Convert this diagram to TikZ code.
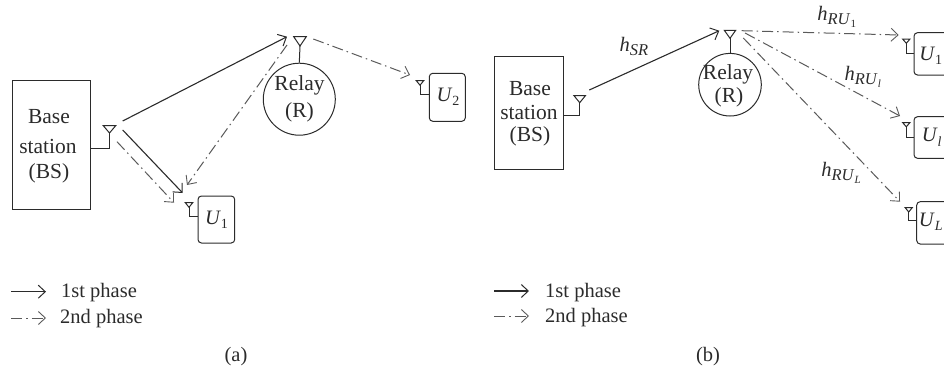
\documentclass[tikz,border=0pt]{standalone}
\usepackage{fontspec}
\setmainfont{Liberation Serif}
\usetikzlibrary{arrows.meta}
\definecolor{inkc}{HTML}{2B2B2B}
\definecolor{dashc}{HTML}{5A5A5A}
\newcommand{\antenna}[5]{% name, x, top y, half width, apex y
  \coordinate (#1) at (#2,#5);
  \draw[wire] (#2-#4,#3) -- (#2+#4,#3) -- (#1) -- cycle;
}
\newcommand{\itx}[1]{\textit{#1}}
\newcommand{\sbx}[1]{\raisebox{-0.22em}{\fontsize{14}{14}\selectfont #1}}
\newcommand{\sbh}[1]{\raisebox{-0.2em}{\fontsize{16.5}{16.5}\selectfont #1}}
\newcommand{\ssbx}[1]{\raisebox{-0.2em}{\fontsize{11}{11}\selectfont #1}}
\tikzset{
  wire/.style={draw=inkc,line width=1pt,line join=miter},
  phaseone/.style={draw=inkc,line width=1.1pt,-{Straight Barb[length=7pt,width=13pt,line width=1pt]}},
  phasetwo/.style={draw=dashc,line width=1pt,dash pattern=on 11pt off 4pt on 1.5pt off 4pt,-{Straight Barb[length=7pt,width=13pt,line width=0.9pt]}},
  txt/.style={text=inkc,inner sep=0pt,font=\fontsize{20.5}{24}\selectfont,align=center},
  boxtxt/.style={txt,font=\fontsize{21.5}{25}\selectfont},
  bsbox/.style={wire,rectangle,inner sep=0pt},
  ubox/.style={wire,rounded corners=3.5pt},
}
\begin{document}
\begin{tikzpicture}[x=1pt,y=-1pt]
\useasboundingbox (0,0) rectangle (944,375);
\clip (0,0) rectangle (944,375);
% ---------- panel (a)
\node[bsbox,minimum width=78.5pt,minimum height=128.5pt] (bsa) at (51.3,144.8) {};
\node[boxtxt] (bsat1) at (49,117) {Base};
\node[boxtxt] (bsat2) at (48,146) {station};
\node[boxtxt] (bsat3) at (49,173) {(BS)};
\antenna{anta}{109.5}{125.7}{6.2}{133}
\draw[wire] (anta) -- (109.5,148) -- (bsa.east |- 0,148);
\node[wire,circle,minimum size=72pt,inner sep=0pt] (rla) at (299.3,99.2) {};
\node[boxtxt] (rlat1) at (299.5,85.5) {Relay};
\node[boxtxt] (rlat2) at (299.5,112) {(R)};
\antenna{antra}{300}{36.7}{6.3}{46}
\draw[wire] (antra) -- (rla.north);
\draw[ubox] (198,196) rectangle (234.7,243);
\coordinate (u1a) at (198,216.7);
\node[txt] (u1at) at (216.5,220) {\itx{U}\sbx{1}};
\antenna{antu1a}{189}{202.7}{3.7}{207.3}
\draw[wire] (antu1a) -- (189,216.7) -- (u1a);
\draw[ubox] (429.3,73.3) rectangle (465.3,121.3);
\coordinate (u2a) at (429.3,94);
\node[txt] (u2at) at (448,97) {\itx{U}\sbx{2}};
\antenna{antu2a}{420}{80.7}{3.7}{85.2}
\draw[wire] (antu2a) -- (420,94) -- (u2a);
\coordinate (a1) at (122.7,121);
\coordinate (a2) at (287,36.7);
\coordinate (a3) at (122.7,130);
\coordinate (a4) at (182.7,193);
\coordinate (a5) at (117,141.7);
\coordinate (a6) at (174,202.7);
\coordinate (a7) at (287,45);
\coordinate (a8) at (187,185);
\coordinate (a9) at (313.3,39);
\coordinate (a10) at (410,75);
\draw[phaseone] (a1) -- (a2);
\draw[phaseone] (a3) -- (a4);
\draw[phasetwo] (a5) -- (a6);
\draw[phasetwo] (a7) -- (a8);
\draw[phasetwo] (a9) -- (a10);
% legend (a)
\coordinate (la1) at (11,291.7);
\coordinate (la2) at (46,291.7);
\coordinate (la3) at (11,318);
\coordinate (la4) at (46,318);
\draw[phaseone] (la1) -- (la2);
\draw[phasetwo] (la3) -- (la4);
\node[txt,anchor=base west] (lat1) at (61,297) {1st phase};
\node[txt,anchor=base west] (lat2) at (60,323) {2nd phase};
\node[txt] (capa) at (236,357) {(a)};
% ---------- panel (b)
\node[bsbox,minimum width=69.7pt,minimum height=112.3pt] (bsb) at (528.9,112.9) {};
\node[boxtxt] (bsbt1) at (530,88.3) {Base};
\node[boxtxt] (bsbt2) at (529,112.7) {station};
\node[boxtxt] (bsbt3) at (530,136.7) {(BS)};
\antenna{antb}{579.7}{95.7}{5.7}{102.7}
\draw[wire] (antb) -- (579.7,115.3) -- (bsb.east |- 0,115.3);
\node[wire,circle,minimum size=62.6pt,inner sep=0pt] (rlb) at (730,84.7) {};
\node[boxtxt] (rlbt1) at (728,74) {Relay};
\node[boxtxt] (rlbt2) at (729,97) {(R)};
\antenna{antrb}{730}{30.3}{5.7}{38.3}
\draw[wire] (antrb) -- (rlb.north);
\draw[ubox] (914,32.7) rectangle (952,75);
\draw[ubox] (914,116.7) rectangle (952,158.3);
\draw[ubox] (916.7,201.7) rectangle (952,244);
\coordinate (ub1) at (914,53.3);
\coordinate (ub2) at (914,137.3);
\coordinate (ub3) at (916.7,220);
\antenna{antub1}{906.3}{39}{3.7}{43.3}
\draw[wire] (antub1) -- (906.3,53.3) -- (ub1);
\antenna{antub2}{906.3}{122.5}{3.7}{126.8}
\draw[wire] (antub2) -- (906.3,137.3) -- (ub2);
\antenna{antub3}{908.7}{207.7}{3.5}{212}
\draw[wire] (antub3) -- (908.7,220) -- (ub3);
\node[txt] (ub1t) at (930.7,56) {\itx{U}\sbx{1}};
\node[txt] (ub2t) at (931.7,137.3) {\itx{U}\sbx{\itx{l}}};
\node[txt] (ub3t) at (930.7,221.7) {\itx{U}\sbx{\itx{L}}};
\coordinate (b1) at (589.3,90);
\coordinate (b2) at (719.3,30.7);
\coordinate (b3) at (741.7,30.7);
\coordinate (b4) at (898.7,35);
\coordinate (b5) at (745,33);
\coordinate (b6) at (900,116);
\coordinate (b7) at (743.3,38);
\coordinate (b8) at (900,201.7);
\draw[phaseone] (b1) -- (b2);
\draw[phasetwo] (b3) -- (b4);
\draw[phasetwo] (b5) -- (b6);
\draw[phasetwo] (b7) -- (b8);
\node[txt] (hsr) at (634,46.7) {\itx{h}\sbh{\itx{SR}}};
\node[txt] (hr1) at (836.7,16.7) {\itx{h}\sbh{\itx{RU}\ssbx{1}}};
\node[txt] (hrl) at (862.7,77) {\itx{h}\sbh{\itx{RU}\ssbx{\itx{l}}}};
\node[txt] (hrL) at (841,173) {\itx{h}\sbh{\itx{RU}\ssbx{\itx{L}}}};
% legend (b)
\coordinate (lb1) at (494,291);
\coordinate (lb2) at (529,291);
\coordinate (lb3) at (494,316);
\coordinate (lb4) at (529,316);
\draw[phaseone] (lb1) -- (lb2);
\draw[phasetwo] (lb3) -- (lb4);
\node[txt,anchor=base west] (lbt1) at (545,297) {1st phase};
\node[txt,anchor=base west] (lbt2) at (545,322) {2nd phase};
\node[txt] (capb) at (708,357) {(b)};
\end{tikzpicture}
\end{document}
